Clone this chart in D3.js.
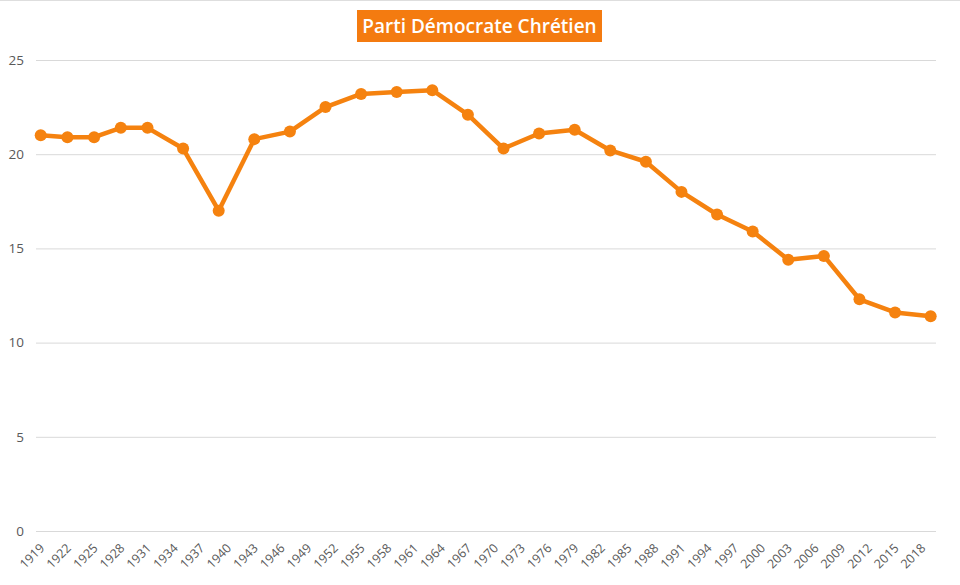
<!DOCTYPE html>
<html>
<head>
<meta charset="utf-8">
<script src="https://cdn.jsdelivr.net/npm/d3@7"></script>
<style>
  html, body { margin: 0; padding: 0; background: #fff; }
  svg { display: block; }
</style>
</head>
<body>
<svg id="chart" width="960" height="585"></svg>
<script>
const title = "Parti Démocrate Chrétien";
const years = [1919, 1922, 1925, 1928, 1931, 1935, 1939, 1943, 1947, 1951, 1955, 1959, 1963, 1967, 1971, 1975, 1979, 1983, 1987, 1991, 1995, 1999, 2003, 2007, 2011, 2015, 2019];
const values = [21.0, 20.9, 20.9, 21.4, 21.4, 20.3, 17.0, 20.8, 21.2, 22.5, 23.2, 23.3, 23.4, 22.1, 20.3, 21.1, 21.3, 20.2, 19.6, 18.0, 16.8, 15.9, 14.4, 14.6, 12.3, 11.6, 11.4];
const xTickLabels = d3.range(1919, 2019, 3);
const yTicks = [0, 5, 10, 15, 20, 25];

const svg = d3.select("#chart");
const W = 960, H = 585;
const mLeft = 36, mRight = 936, mTop = 60, mBottom = 531;

const x = d3.scaleLinear().domain([1918.47, 2019.6]).range([mLeft, mRight]);
const y = d3.scaleLinear().domain([0, 25]).range([mBottom, mTop]);

// top border line
svg.append("line").attr("x1", 0).attr("x2", W).attr("y1", 0.5).attr("y2", 0.5)
  .attr("stroke", "#dedede").attr("stroke-width", 1);

// gridlines
const yAxis = d3.axisLeft(y).tickValues(yTicks).tickSize(-(mRight - mLeft)).tickPadding(12).tickFormat(d3.format("d"));
const gy = svg.append("g").attr("transform", `translate(${mLeft},0)`).call(yAxis);
gy.select(".domain").remove();
gy.selectAll(".tick line").attr("stroke", "#d9d9d9").attr("stroke-width", 1);
gy.selectAll(".tick text").attr("fill", "#595959").attr("font-family", "'Open Sans', sans-serif").attr("font-size", 13.5);

// x axis labels
const xAxis = d3.axisBottom(x).tickValues(xTickLabels).tickSize(0).tickFormat(d3.format("d"));
const gx = svg.append("g").attr("transform", `translate(0,${mBottom})`).call(xAxis);
gx.select(".domain").remove();
gx.selectAll(".tick text")
  .attr("fill", "#595959")
  .attr("font-family", "'Open Sans', sans-serif")
  .attr("font-size", 12.5)
  .attr("text-anchor", "end")
  .attr("dy", null)
  .attr("y", 0)
  .attr("transform", "translate(4,18) rotate(-45)");

// line
const line = d3.line().x((d, i) => x(years[i])).y(d => y(d));
svg.append("path").datum(values)
  .attr("d", line)
  .attr("fill", "none")
  .attr("stroke", "#F5820F")
  .attr("stroke-width", 4.5)
  .attr("stroke-linejoin", "round");

svg.append("g").selectAll("circle").data(values).join("circle")
  .attr("cx", (d, i) => x(years[i]))
  .attr("cy", d => y(d))
  .attr("r", 6)
  .attr("fill", "#F5820F");

// title
const tg = svg.append("g");
tg.append("rect")
  .attr("x", 357).attr("y", 10)
  .attr("width", 245).attr("height", 32)
  .attr("fill", "#F47B10");
tg.append("text")
  .attr("x", 479.5).attr("y", 33)
  .attr("text-anchor", "middle")
  .attr("fill", "#ffffff")
  .attr("font-family", "'Open Sans', sans-serif")
  .attr("font-weight", 600)
  .attr("font-size", 19)
  .text(title);
</script>
</body>
</html>
